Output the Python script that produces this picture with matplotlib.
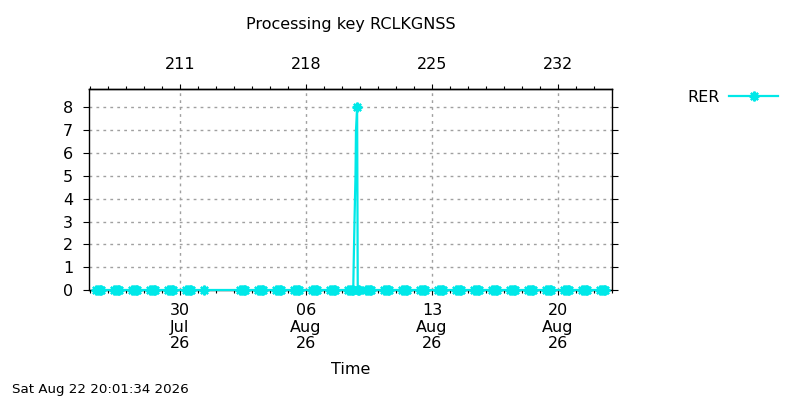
import matplotlib
matplotlib.use("Agg")
import matplotlib.pyplot as plt
import matplotlib.dates as mdates
from matplotlib.lines import Line2D
import pandas as pd

# ---------------- data ----------------
series_name = "RER"
title = "Processing key RCLKGNSS"
stamp = "Sat Aug 22 20:01:34 2026"

zero_days = ["2026-07-25", "2026-07-26", "2026-07-27", "2026-07-28", "2026-07-29",
             "2026-07-30", "2026-08-02", "2026-08-03", "2026-08-04", "2026-08-05",
             "2026-08-06", "2026-08-07", "2026-08-08", "2026-08-09", "2026-08-10",
             "2026-08-11", "2026-08-12", "2026-08-13", "2026-08-14", "2026-08-15",
             "2026-08-16", "2026-08-17", "2026-08-18", "2026-08-19", "2026-08-20",
             "2026-08-21", "2026-08-22"]
sample_hours = ["08:00", "10:30", "13:00", "15:00"]
extra_times = ["2026-07-31 08:00"]
extra_values = [0]

spike_times = ["2026-08-08 15:30", "2026-08-08 16:40", "2026-08-08 18:00",
               "2026-08-08 18:40", "2026-08-08 20:10", "2026-08-08 21:00",
               "2026-08-08 22:30"]
spike_values = [1, 3, 5, 7, 8, 0, 0]
spike_marked = [False, False, False, False, True, True, True]

major_days = ["2026-07-30", "2026-08-06", "2026-08-13", "2026-08-20"]
x_start = "2026-07-24 22:40"
x_end = "2026-08-23 00:25"
y_ticks = [0, 1, 2, 3, 4, 5, 6, 7, 8]
y_top = 8.79

# ---------------- build table ----------------
rows = []
for d in zero_days:
    for h in sample_hours:
        rows.append((pd.Timestamp(f"{d} {h}"), 0, True))
for t, v in zip(extra_times, extra_values):
    rows.append((pd.Timestamp(t), v, True))
for t, v, m in zip(spike_times, spike_values, spike_marked):
    rows.append((pd.Timestamp(t), v, m))
df = pd.DataFrame(rows, columns=["t", "v", "m"]).sort_values("t").reset_index(drop=True)

color = "#00e8e8"
fs = 11.5

fig = plt.figure(figsize=(8, 4), dpi=100)
ax = fig.add_axes([89 / 800, 1 - 290 / 400, (612.3 - 89) / 800, (290 - 89.3) / 400])

ax.plot(df["t"], df["v"], color=color, lw=1.6, marker=(8, 2, 0), ms=7, mew=1.6,
        markevery=list(df["m"]), clip_on=False, zorder=3)

ax.set_xlim(pd.Timestamp(x_start), pd.Timestamp(x_end))
ax.set_ylim(0, y_top)
ax.set_yticks(y_ticks)

maj = [pd.Timestamp(d) for d in major_days]
ax.set_xticks(maj, labels=[d.strftime("%d\n%b\n%y") for d in maj])
ax.xaxis.set_minor_locator(mdates.DayLocator())

for s in ax.spines.values():
    s.set_linewidth(1.0)
    s.set_zorder(2.5)

ax.tick_params(axis="y", direction="out", length=4.3, width=0.8, right=True,
               labelsize=fs, pad=7.0)
ax.tick_params(axis="x", which="major", direction="out", length=3.6, width=0.8,
               labelsize=fs, pad=5.5)
ax.tick_params(axis="x", which="minor", direction="out", length=2.4, width=0.8)
for lab in ax.get_xticklabels():
    lab.set_linespacing(1.16)

ax.grid(True, which="major", color="#a0a0a0", linestyle=(0, (2, 3)), lw=1.0)

top = ax.secondary_xaxis("top")
top.set_xticks(mdates.date2num(maj), labels=[d.strftime("%j") for d in maj])
top.set_xticks(mdates.date2num(pd.date_range(x_start, x_end, freq="D").normalize()
                               [1:]), minor=True)
top.tick_params(which="major", direction="out", length=3.6, width=0.8,
                labelsize=fs, pad=8.5)
top.tick_params(which="minor", direction="out", length=2.4, width=0.8)
top.spines["top"].set_linewidth(1.0)

ax.set_xlabel("Time", fontsize=fs, va="center")
ax.xaxis.set_label_coords(0.5, (290 - 369) / (290 - 89.3))

fig.text(350.5 / 800, 1 - 24 / 400, title, ha="center", va="center", fontsize=fs)
fig.text(12 / 800, 1 - 390 / 400, stamp, ha="left", va="center", fontsize=9.6)

handle = Line2D([], [], color=color, lw=1.6, marker=(8, 2, 0), ms=7, mew=1.6)
fig.legend([handle], [series_name], loc="center left",
           bbox_to_anchor=(687.7 / 800, 1 - 97 / 400), frameon=False,
           markerfirst=False, handlelength=3.1, handletextpad=0.55,
           borderpad=0, borderaxespad=0, fontsize=fs, numpoints=1)

fig.savefig("out.png", dpi=100)
